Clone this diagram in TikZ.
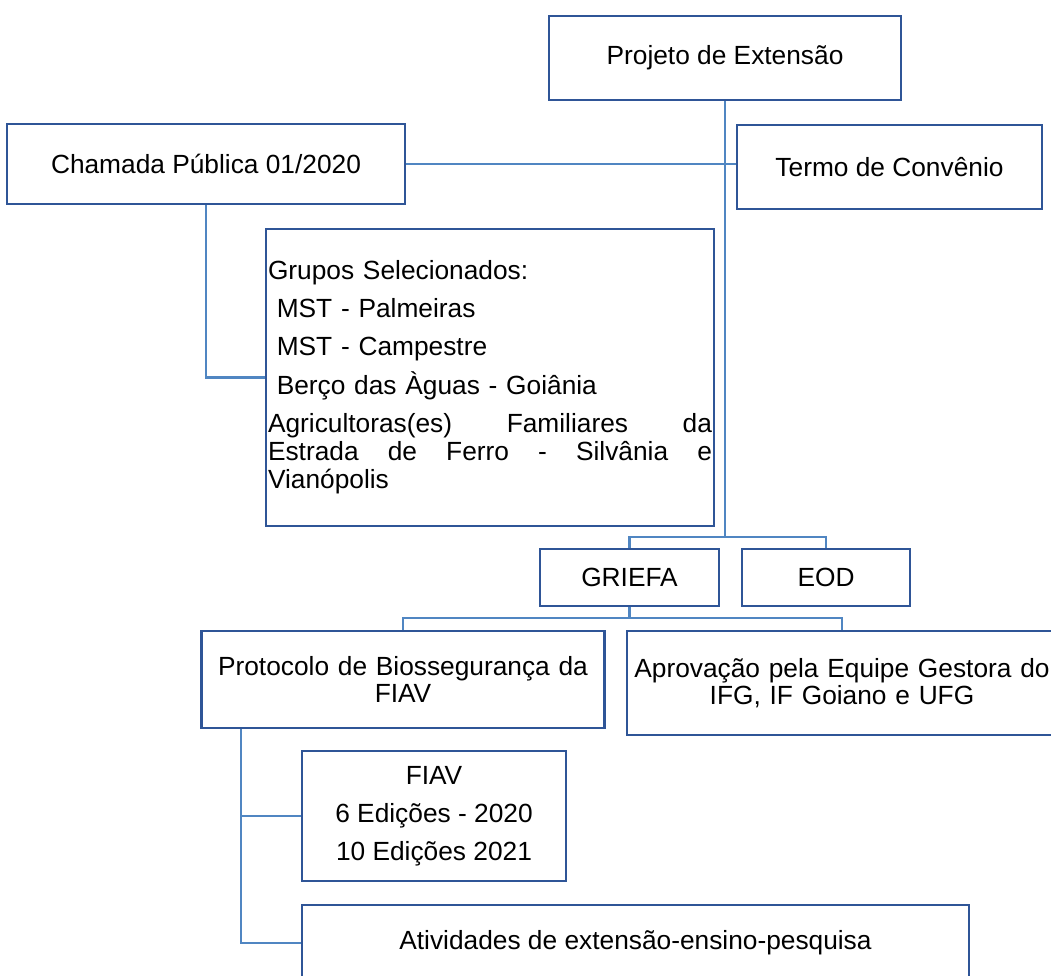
\documentclass[tikz,border=0pt]{standalone}
\usepackage{fontspec}
\setmainfont{Liberation Sans}
\definecolor{boxc}{RGB}{47,85,151}
\definecolor{linec}{RGB}{80,134,194}
\tikzset{
  box/.style={draw=boxc, line width=2.4pt, fill=white, inner sep=2pt, align=center,
    font=\fontsize{26.3}{27}\selectfont},
  conn/.style={draw=linec, line width=2.3pt},
}
\begin{document}
\begin{tikzpicture}[x=1pt,y=-1pt]
\useasboundingbox (0,0) rectangle (1051,976);
\coordinate (j1) at (725,537);
\coordinate (k1) at (629.5,618);
% boxes
\node[box, minimum width=352, minimum height=84] (proj) at (725,58) {Projeto de Extensão};
\node[box, minimum width=305, minimum height=84] (termo) at (889.5,167) {Termo de Convênio};
\node[box, minimum width=398, minimum height=80] (cham) at (206,164) {Chamada Pública 01/2020};
\node[box, minimum width=448, minimum height=297, text width=444pt, align=left,
      font=\fontsize{26.3}{28}\selectfont] (grupos) at (490,377.5)
  {Grupos Selecionados:\\[10pt]
   \ MST - Palmeiras\\[10pt]
   \ MST - Campestre\\[10pt]
   \ Berço das Àguas - Goiânia\\[10pt]
   \leavevmode\hbox to 444pt{Agricultoras(es)\hfill Familiares\hfill da}\\
   \leavevmode\hbox to 444pt{Estrada\hfill de\hfill Ferro\hfill -\hfill Silvânia\hfill e}\\
   Vianópolis};
\node[box, minimum width=179, minimum height=57] (griefa) at (629.5,577.5) {GRIEFA};
\node[box, minimum width=168, minimum height=57] (eod) at (826,577.5) {EOD};
\node[box, minimum width=403, minimum height=97, text width=399pt] (prot) at (403,679.5)
  {Protocolo de Biossegurança da\\FIAV};
\node[box, minimum width=430, minimum height=104, text width=426pt] (aprov) at (842,683)
  {Aprovação pela Equipe Gestora do\\IFG, IF Goiano e UFG};
\node[box, minimum width=264, minimum height=130, font=\fontsize{26.3}{38}\selectfont] (fiav) at (434,816)
  {FIAV\\6 Edições - 2020\\10 Edições 2021};
\node[box, minimum width=667, minimum height=76] (ativ) at (635.5,943)
  {Atividades de extensão-ensino-pesquisa};
% connectors
\draw[conn] (proj.south) -- (j1);
\draw[conn] (griefa.north) -- (griefa.north |- j1) -| (eod.north);
\draw[conn] (cham.east) -- (cham.east -| termo.west);
\draw[conn] (cham.south) |- (grupos.west);
\draw[conn] (griefa.south) -- (k1);
\draw[conn] (prot.north) -- (prot.north |- k1) -| (aprov.north);
\draw[conn] ([xshift=40.5pt]prot.south west) |- (fiav.west);
\draw[conn] ([xshift=40.5pt]prot.south west) |- (ativ.west);
\end{tikzpicture}
\end{document}
